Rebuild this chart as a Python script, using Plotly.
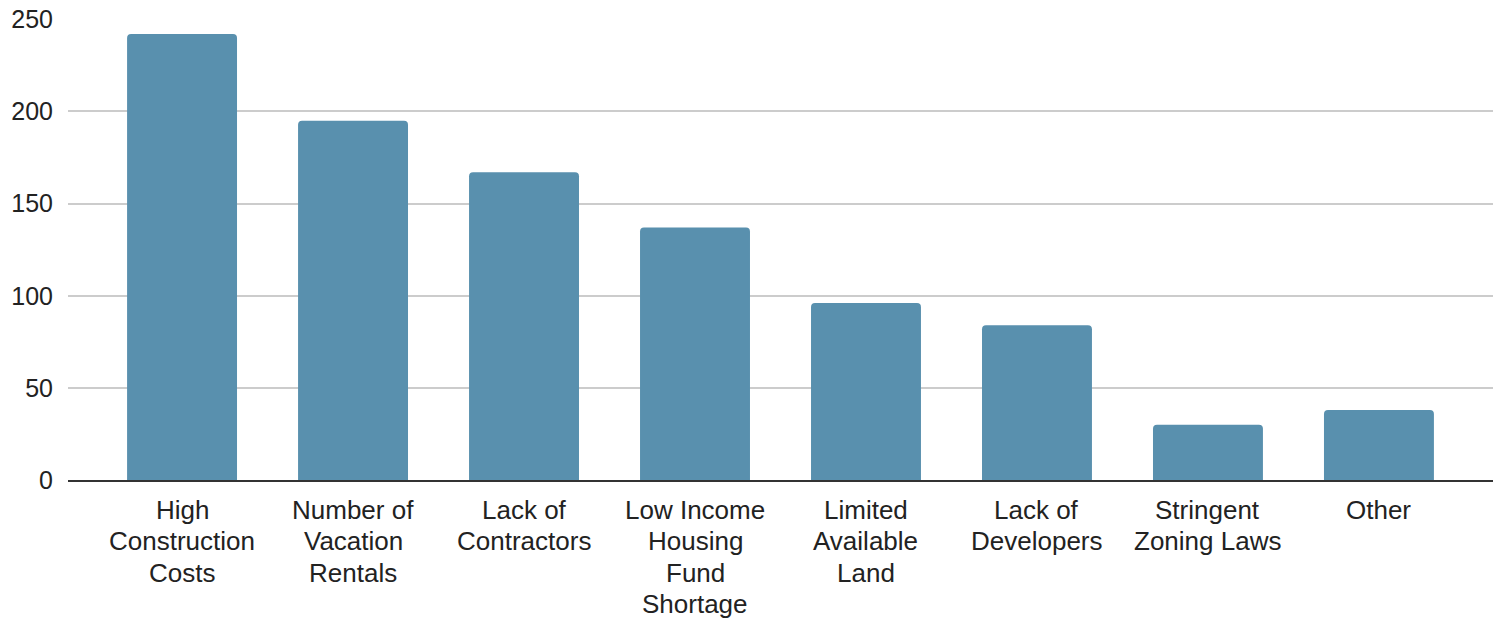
import plotly.graph_objects as go

categories = [
    "High<br>Construction<br>Costs",
    "Number of<br>Vacation<br>Rentals",
    "Lack of<br>Contractors",
    "Low Income<br>Housing<br>Fund<br>Shortage",
    "Limited<br>Available<br>Land",
    "Lack of<br>Developers",
    "Stringent<br>Zoning Laws",
    "Other",
]
values = [242, 195, 167, 137, 96, 84, 30, 38]
y_ticks = [0, 50, 100, 150, 200, 250]

FONT = "Liberation Sans, Arial, sans-serif"
TEXT_COLOR = "#222222"

fig = go.Figure(
    go.Bar(
        x=categories,
        y=values,
        marker=dict(color="#5990ae", line=dict(width=0)),
        width=0.643,
        hoverinfo="skip",
    )
)

# category labels, one annotation per text line for tighter line spacing
annotations = []
for cat in categories:
    for i, line in enumerate(cat.split("<br>")):
        annotations.append(
            dict(
                x=cat,
                xref="x",
                y=0,
                yref="paper",
                yanchor="middle",
                xanchor="center",
                yshift=-30 - i * 31.3,
                text=line,
                showarrow=False,
                font=dict(family=FONT, size=26, color=TEXT_COLOR),
            )
        )

fig.update_layout(
    width=1505,
    height=621,
    margin=dict(l=68, r=12, t=19, b=141),
    paper_bgcolor="white",
    plot_bgcolor="white",
    barcornerradius=4,
    showlegend=False,
    font=dict(family=FONT, size=24, color=TEXT_COLOR),
    annotations=annotations,
)

fig.update_xaxes(
    type="category",
    range=[-0.667, 7.667],
    showline=True,
    linecolor="#333333",
    linewidth=2,
    showgrid=False,
    ticks="",
    showticklabels=False,
    automargin=False,
)

fig.update_yaxes(
    range=[0, 250.2],
    tickvals=y_ticks,
    showgrid=True,
    gridcolor="#cccccc",
    gridwidth=1.5,
    zeroline=False,
    showline=False,
    ticks="",
    ticklabelstandoff=14,
    automargin=False,
    tickfont=dict(family=FONT, size=25, color=TEXT_COLOR),
)

fig.write_html(
    "out.html",
    config={"displayModeBar": False},
    post_script="document.body.style.margin='0';document.body.style.overflow='hidden';",
)
